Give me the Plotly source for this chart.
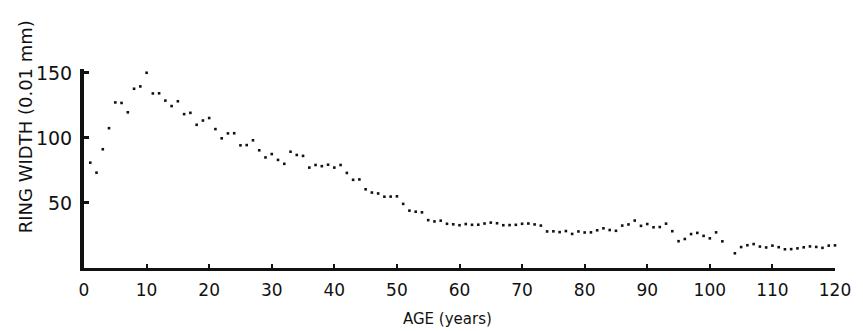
import plotly.graph_objects as go

# Ring width (0.01 mm) by age (years)
ages = [1, 2, 3, 4, 5, 6, 7, 8, 9, 10, 11, 12, 13, 14, 15, 16, 17, 18, 19, 20,
        21, 22, 23, 24, 25, 26, 27, 28, 29, 30, 31, 32, 33, 34, 35, 36, 37, 38, 39, 40,
        41, 42, 43, 44, 45, 46, 47, 48, 49, 50, 51, 52, 53, 54, 55, 56, 57, 58, 59, 60,
        61, 62, 63, 64, 65, 66, 67, 68, 69, 70, 71, 72, 73, 74, 75, 76, 77, 78, 79, 80,
        81, 82, 83, 84, 85, 86, 87, 88, 89, 90, 91, 92, 93, 94, 95, 96, 97, 98, 99, 100,
        101, 102, 104, 105, 106, 107, 108, 109, 110, 111, 112, 113, 114, 115, 116, 117, 118, 119, 120]
ring_width = [81, 73.3, 91.3, 107.5, 127.3, 126.9, 119.7, 137.8, 139.6, 150.1,
              134.2, 134.3, 128.7, 124.5, 128.2, 118.3, 119.3, 110.1, 113.4, 115.3,
              106.8, 99.7, 103.5, 103.6, 94.3, 94.5, 98.2, 90.5, 85.0, 87.6,
              83.1, 80.1, 89.4, 86.9, 86.2, 77.2, 79.2, 78.3, 79.4, 77.2,
              79.2, 73.1, 67.8, 68.1, 60.5, 58.0, 57.3, 54.8, 54.9, 55.1,
              49.3, 44.1, 43.3, 42.8, 36.8, 35.8, 36.4, 34.0, 33.6, 32.9,
              33.8, 33.2, 33.3, 34.2, 34.9, 34.4, 32.9, 33.0, 33.2, 34.0,
              34.2, 33.5, 32.6, 28.1, 28.2, 27.6, 28.4, 26.2, 28.1, 27.3,
              27.4, 29.0, 30.5, 29.2, 28.6, 32.6, 33.5, 36.5, 32.4, 33.8,
              31.3, 31.5, 34.1, 28.3, 20.6, 22.3, 26.1, 27.0, 24.7, 22.8,
              27.4, 20.5, 11.3, 16.1, 17.5, 18.4, 16.5, 15.8, 17.2, 16.0,
              14.4, 14.5, 15.1, 15.9, 16.6, 16.2, 15.5, 17.2, 17.4]

x_ticks = [0, 10, 20, 30, 40, 50, 60, 70, 80, 90, 100, 110, 120]
y_ticks = [50, 100, 150]

fig = go.Figure()
fig.add_trace(go.Scatter(
    x=ages, y=ring_width, mode="markers",
    marker=dict(symbol="square", size=2.6, color="#111111", line=dict(width=0)),
    cliponaxis=False, showlegend=False,
))

fig.update_layout(
    width=863, height=331,
    margin=dict(l=84, r=25, t=69, b=63),
    paper_bgcolor="white", plot_bgcolor="white",
    font=dict(family="DejaVu Sans", color="#111111", size=17),
    xaxis=dict(
        range=[0, 120], showgrid=False, zeroline=False,
        showline=True, linecolor="#111111", linewidth=3,
        tickmode="array", tickvals=x_ticks, ticktext=[str(v) for v in x_ticks],
        ticks="inside", ticklen=4, tickwidth=2, tickcolor="#111111",
        tickfont=dict(size=17), ticklabelstandoff=5,
    ),
    yaxis=dict(
        range=[0, 153], showgrid=False, zeroline=False,
        showline=True, linecolor="#111111", linewidth=4,
        tickmode="array", tickvals=y_ticks, ticktext=[str(v) for v in y_ticks],
        ticks="inside", ticklen=5, tickwidth=3, tickcolor="#111111",
        tickfont=dict(size=19), ticklabelstandoff=4,
    ),
    annotations=[
        dict(text="AGE (years)", xref="paper", yref="paper",
             x=(449 - 84) / (838 - 84), y=-(319 - 268) / 199,
             xanchor="center", yanchor="middle", showarrow=False,
             font=dict(size=15)),
        dict(text="RING WIDTH (0.01 mm)", xref="paper", yref="paper",
             x=-(84 - 25) / (838 - 84), y=(268 - 127) / 199,
             xanchor="center", yanchor="middle", showarrow=False,
             textangle=-90, font=dict(size=18)),
    ],
)

fig.write_html("out.html")
